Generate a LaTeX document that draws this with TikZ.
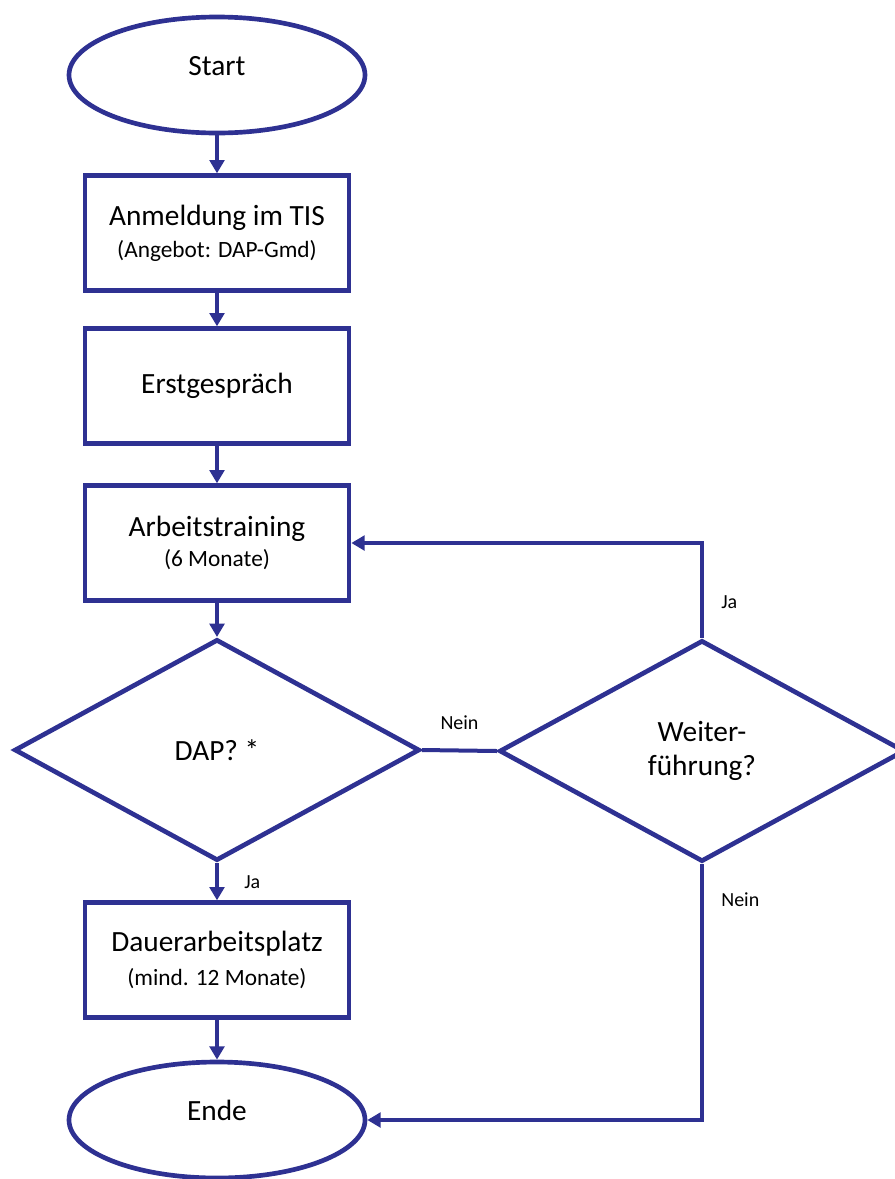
\documentclass[tikz,border=0pt]{standalone}
\usepackage{fontspec}
\setmainfont{Carlito}
\usepackage{tikz}
\usetikzlibrary{arrows.meta,shapes.geometric}
\definecolor{flowblue}{RGB}{46,49,146}

\begin{document}
\begin{tikzpicture}[x=0.75pt,y=-0.75pt,
  terminal/.style={ellipse,draw=flowblue,line width=3.5pt,minimum width=222pt,minimum height=87pt,
    inner sep=0pt,text height=14pt,text depth=14pt,font=\fontsize{22}{26}\selectfont},
  stepbox/.style={rectangle,draw=flowblue,line width=3.5pt,minimum width=198pt,minimum height=86pt,
    align=center,font=\fontsize{22}{26}\selectfont},
  decision/.style={diamond,draw=flowblue,line width=3.5pt,minimum width=304pt,minimum height=166pt,
    inner sep=0pt,align=center,font=\fontsize{22}{26}\selectfont},
  answer/.style={inner sep=0pt,font=\fontsize{15}{18}\selectfont},
  flow/.style={draw=flowblue,line width=3pt,-{Triangle[width=11pt,length=10pt]}},
  link/.style={draw=flowblue,line width=3pt}]
\useasboundingbox (0,0) rectangle (895,1179);
\clip (0,0) rectangle (895,1179);
\node[terminal] (start) at (217,75) {Start};
\node[stepbox] (anmeldung) at (217,233) {Anmeldung im TIS\\[-2pt]{\fontsize{17.5}{21}\selectfont (Angebot: DAP-Gmd)}};
\node[stepbox] (erstgespraech) at (217,386) {Erstgespräch};
\node[stepbox] (training) at (217,543) {Arbeitstraining\\[-4pt]{\fontsize{17.5}{21}\selectfont (6 Monate)}};
\node[decision] (dap) at (217,750) {DAP? *};
\node[decision] (weiter) at (702,751) {Weiter-\\führung?};
\node[stepbox] (dauer) at (217,960) {Dauerarbeitsplatz\\[-1pt]{\fontsize{17.5}{21}\selectfont (mind. 12 Monate)}};
\node[terminal] (ende) at (217,1120) {Ende};
\draw[flow] (start) -- (anmeldung);
\draw[flow] (anmeldung) -- (erstgespraech);
\draw[flow] (erstgespraech) -- (training);
\draw[flow] (training) -- (dap);
\draw[flow] (dap) -- node[answer,right=19pt] (jaDap) {Ja} (dauer);
\draw[flow] (dauer) -- (ende);
\draw[link] (dap.east) -- node[answer,above=14pt] (neinDap) {Nein} (weiter.west);
\draw[flow] (weiter.north) |- node[answer,pos=0.19,right=13pt] (jaWeiter) {Ja} (training.east);
\draw[flow] (weiter.south) |- node[answer,pos=0.07,right=13pt] (neinWeiter) {Nein} (ende.east);
\end{tikzpicture}
\end{document}
